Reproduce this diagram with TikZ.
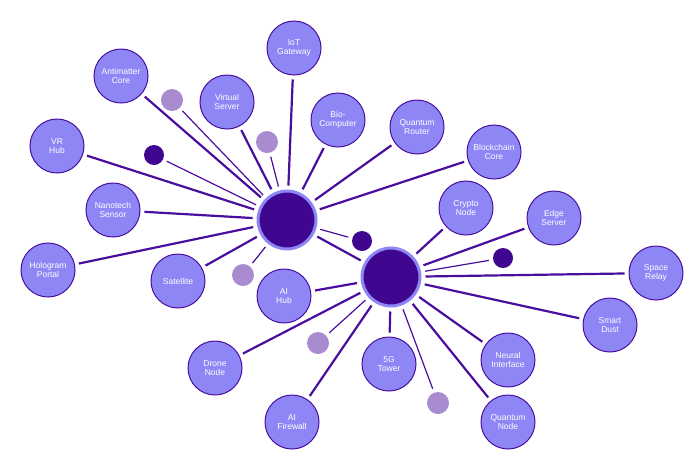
\documentclass[tikz,border=0pt]{standalone}
\usepackage{fontspec}
\setmainfont{Liberation Sans}
\usetikzlibrary{backgrounds}
\definecolor{nodefill}{HTML}{8F86F5}
\definecolor{nodeedge}{HTML}{4A0E9E}
\definecolor{hubfill}{HTML}{3F0790}
\definecolor{linkcol}{HTML}{4A0E9E}
\definecolor{dotlight}{HTML}{A98BD0}
\tikzset{
  leaf/.style={draw=nodeedge, line width=1pt, circle, fill=nodefill, minimum size=54pt, inner sep=0pt,
    text=white, align=center, font=\fontsize{8.5}{9.5}\selectfont},
  hub/.style={draw=nodefill, line width=3pt, circle, fill=hubfill, minimum size=58pt},
  dotl/.style={circle, fill=dotlight, minimum size=22pt, inner sep=0pt},
  dotd/.style={circle, fill=hubfill, minimum size=20pt, inner sep=0pt},
  link/.style={draw=linkcol, line width=2.2pt, shorten <=4pt, shorten >=4pt},
  thinlink/.style={draw=linkcol, line width=1.2pt, shorten <=4pt, shorten >=4pt}
}
\begin{document}
\begin{tikzpicture}[x=1pt,y=-1pt]
\useasboundingbox (0,0) rectangle (696,459);
% hubs
\node[hub] (h1) at (287,220) {};
\node[hub] (h2) at (391,277) {};
% small dots
\node[dotl] (d1) at (172,100) {};
\node[dotl] (d2) at (267,142) {};
\node[dotl] (d3) at (243,275) {};
\node[dotl] (d4) at (318,343) {};
\node[dotl] (d5) at (438,403) {};
\node[dotd] (e1) at (154,155) {};
\node[dotd] (e2) at (362,241) {};
\node[dotd] (e3) at (503,258) {};
% leaves
\node[leaf] (iot) at (294,48) {IoT\\Gateway};
\node[leaf] (anti) at (121,76) {Antimatter\\Core};
\node[leaf] (virt) at (227,102) {Virtual\\Server};
\node[leaf] (bio) at (338,120) {Bio-\\Computer};
\node[leaf] (qrout) at (417,127) {Quantum\\Router};
\node[leaf] (block) at (494,152) {Blockchain\\Core};
\node[leaf] (vr) at (57,146) {VR\\Hub};
\node[leaf] (nano) at (113,210) {Nanotech\\Sensor};
\node[leaf] (crypto) at (466,208) {Crypto\\Node};
\node[leaf] (edge) at (554,218) {Edge\\Server};
\node[leaf] (holo) at (48,270) {Hologram\\Portal};
\node[leaf] (sat) at (178,281) {Satellite};
\node[leaf] (aihub) at (284,296) {AI\\Hub};
\node[leaf] (space) at (656,273) {Space\\Relay};
\node[leaf] (dust) at (610,325) {Smart\\Dust};
\node[leaf] (drone) at (215,368) {Drone\\Node};
\node[leaf] (tower) at (389,364) {5G\\Tower};
\node[leaf] (neural) at (508,360) {Neural\\Interface};
\node[leaf] (fire) at (292,422) {AI\\Firewall};
\node[leaf] (qnode) at (508,422) {Quantum\\Node};

% connectors
\begin{scope}[on background layer]
\foreach \n in {iot,anti,virt,bio,qrout,block,vr,nano,holo,sat,h2}
  \path[link] (h1) -- (\n);
\foreach \n in {d1,d2,d3,e1,e2}
  \path[thinlink] (h1) -- (\n);
\foreach \n in {crypto,edge,space,dust,neural,qnode,tower,fire,drone,aihub}
  \path[link] (h2) -- (\n);
\foreach \n in {d4,d5,e3}
  \path[thinlink] (h2) -- (\n);
\end{scope}
\end{tikzpicture}
\end{document}
